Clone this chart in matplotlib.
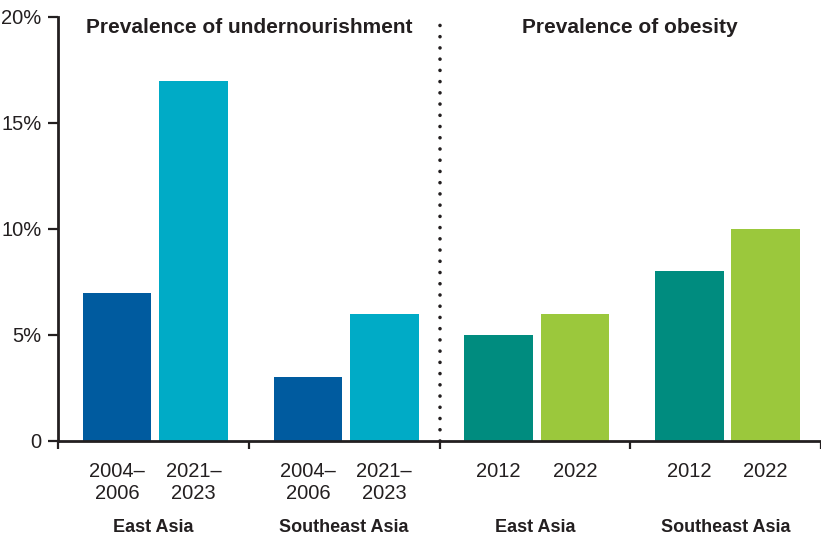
import matplotlib
matplotlib.use("Agg")
import matplotlib.pyplot as plt
import matplotlib.transforms as mtransforms

# data (percent)
groups = ["East Asia", "Southeast Asia", "East Asia", "Southeast Asia"]
period_labels = [["2004–\n2006", "2021–\n2023"], ["2004–\n2006", "2021–\n2023"],
                 ["2012", "2022"], ["2012", "2022"]]
undernourishment = [[7, 17], [3, 6]]
obesity = [[5, 6], [8, 10]]
panel_titles = ["Prevalence of undernourishment", "Prevalence of obesity"]
yticks = [0, 5, 10, 15, 20]
ytick_labels = ["0", "5%", "10%", "15%", "20%"]

dark = "#231f20"
colors_under = ["#005b9f", "#00abc6"]
colors_obes = ["#008c7f", "#9bc83c"]

narrow = ["Liberation Sans Narrow", "Liberation Sans", "DejaVu Sans"]
plt.rcParams["font.family"] = narrow

fig = plt.figure(figsize=(8.21, 5.40), dpi=100)
ax = fig.add_axes([58 / 821, 99 / 540, 1 - 58 / 821, (441 - 17) / 540])

values = undernourishment + obesity
width = 0.36
centers, labels = [], []
for g, vals in enumerate(values):
    cols = colors_under if g < 2 else colors_obes
    for k, v in enumerate(vals):
        x = g + 0.31 + 0.4 * k
        ax.bar(x, v, width=width, color=cols[k], linewidth=0)
        centers.append(x)
        labels.append(period_labels[g][k])

ax.set_xlim(0, 4)
ax.set_ylim(0, 20)
ax.set_yticks(yticks)
ax.set_yticklabels(ytick_labels, fontsize=14.5, color=dark)
ax.set_xticks([0, 1, 2, 3, 4])
ax.set_xticklabels([])
ax.set_xticks(centers, minor=True)
ax.set_xticklabels(labels, minor=True, fontsize=14.5, color=dark, linespacing=1.18)
ax.tick_params(axis="x", which="major", direction="out", length=6, width=1.6, color=dark)
ax.tick_params(axis="x", which="minor", length=0, pad=15)
ax.tick_params(axis="y", direction="out", length=7, width=1.6, color=dark, pad=5)

for s in ["top", "right"]:
    ax.spines[s].set_visible(False)
for s in ["left", "bottom"]:
    ax.spines[s].set_linewidth(2)
    ax.spines[s].set_color(dark)

# dotted divider between the two panels
ax.plot([2, 2], [0, 20.1], color=dark, linewidth=2.6, linestyle=(0, (0.01, 3.1)),
        dash_capstyle="round", clip_on=False)

for i, t in enumerate(panel_titles):
    ax.text(1 + 2 * i, 19.5, t, ha="center", va="center", fontsize=15,
            fontweight="bold", color=dark, family=["Liberation Sans", "DejaVu Sans"])

trans = mtransforms.blended_transform_factory(ax.transData, fig.transFigure)
for g, name in enumerate(groups):
    ax.text(g + 0.5, 13 / 540, name, transform=trans, ha="center", va="center",
            fontsize=13, fontweight="bold", color=dark)

fig.savefig("out.png", dpi=100)
